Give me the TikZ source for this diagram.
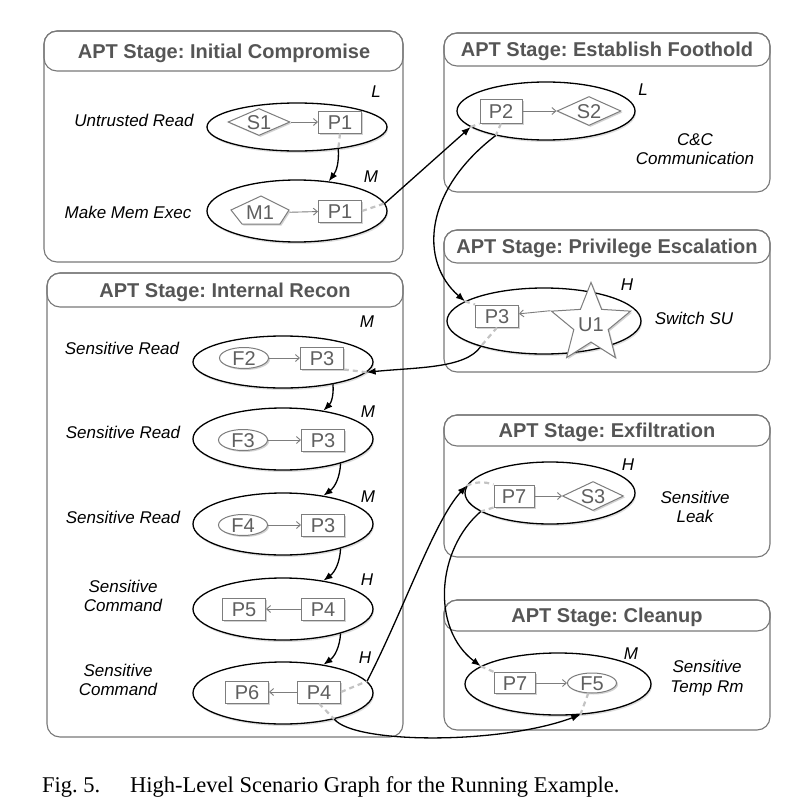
\documentclass[tikz,border=0pt]{standalone}
\usepackage{fontspec}
\setmainfont{Liberation Sans}
\newfontfamily\capfont{Liberation Serif}
\usetikzlibrary{shapes.geometric,shadows,arrows.meta}
\definecolor{panelgray}{RGB}{120,120,120}
\definecolor{titlegray}{RGB}{85,85,85}
\definecolor{boxgray}{RGB}{125,125,125}
\definecolor{boxtext}{RGB}{95,95,95}
\definecolor{dashgray}{RGB}{195,195,195}
\frenchspacing
\tikzset{
 panel/.style={draw=panelgray, line width=1.1pt, rounded corners=13pt},
 ttl/.style={text=titlegray, font=\fontsize{20}{24}\selectfont\bfseries, text height=14.5pt, text depth=0pt, inner sep=0pt},
 lab/.style={font=\fontsize{17}{19.5}\selectfont\itshape, align=center, inner sep=0pt},
 lvl/.style={font=\fontsize{17}{19}\selectfont\itshape, inner sep=0pt},
 bigell/.style={ellipse, draw=black, line width=1.3pt, fill=white, inner sep=0pt, drop shadow={shadow xshift=1pt, shadow yshift=-2pt, opacity=0.25}},
 sm/.style={draw=boxgray, line width=1pt, fill=white, text=boxtext, font=\fontsize{20}{22}\selectfont, inner sep=0pt, text height=14pt, text depth=0pt, drop shadow={shadow xshift=1.5pt, shadow yshift=-1.5pt, opacity=0.35}},
 pbox/.style={sm, rectangle, minimum width=43pt, minimum height=22pt},
 dia/.style={sm, diamond, aspect=2.3, minimum width=62pt, minimum height=27pt},
 fil/.style={sm, ellipse, minimum width=49pt, minimum height=21pt},
 inarr/.style={draw=boxgray, line width=0.9pt, -{Straight Barb[length=4pt,width=7pt]}},
 conn/.style={draw=black, line width=1.3pt, -{Latex[length=9pt,width=7pt]}},
 dsh/.style={draw=dashgray, line width=2.2pt, dash pattern=on 5pt off 4pt},
}
\begin{document}
\begin{tikzpicture}[x=1pt,y=-1pt]
\useasboundingbox (0,0) rectangle (806,808);
% ---------- panels ----------
\draw[panel] (44,31) rectangle (403,262);
\draw[panel] (44,31) rectangle (403,71);
\node[ttl] (t1) at (224,51) {APT Stage: Initial Compromise};
\draw[panel] (444,33) rectangle (770,192);
\draw[panel] (444,33) rectangle (770,66);
\node[ttl] (t2) at (607,49.5) {APT Stage: Establish Foothold};
\draw[panel] (444,230) rectangle (770,372);
\draw[panel] (444,230) rectangle (770,263);
\node[ttl] (t3) at (607,246.5) {APT Stage: Privilege Escalation};
\draw[panel] (47,273) rectangle (403,737);
\draw[panel] (47,273) rectangle (403,307);
\node[ttl] (t4) at (225,290) {APT Stage: Internal Recon};
\draw[panel] (444,415) rectangle (770,557);
\draw[panel] (444,415) rectangle (770,446);
\node[ttl] (t5) at (607,430.5) {APT Stage: Exfiltration};
\draw[panel] (444,600) rectangle (770,730);
\draw[panel] (444,600) rectangle (770,631);
\node[ttl] (t6) at (607,615.5) {APT Stage: Cleanup};
% ---------- big ellipses ----------
\node[bigell, minimum width=180pt, minimum height=48pt] (E1) at (297,127) {};
\node[bigell, minimum width=180pt, minimum height=62pt] (E2) at (297,211) {};
\node[bigell, minimum width=178pt, minimum height=58pt] (E3) at (546,111) {};
\node[bigell, minimum width=194pt, minimum height=66pt] (E4) at (544,321) {};
\node[bigell, minimum width=180pt, minimum height=52pt] (E5) at (283,362) {};
\node[bigell, minimum width=180pt, minimum height=62pt] (E6) at (283,439) {};
\node[bigell, minimum width=180pt, minimum height=62pt] (E7) at (283,524) {};
\node[bigell, minimum width=180pt, minimum height=62pt] (E8) at (283,609) {};
\node[bigell, minimum width=180pt, minimum height=62pt] (E9) at (283,693) {};
\node[bigell, minimum width=170pt, minimum height=62pt] (E10) at (550,493) {};
\node[bigell, minimum width=186pt, minimum height=62pt] (E11) at (558,684) {};
% ---------- inner entities ----------
\node[dia] (S1) at (259,122) {S1};
\node[pbox] (P1a) at (340,122) {P1};
\coordinate (m1c) at (260,211);
\draw[draw=boxgray, line width=1pt, fill=white, drop shadow={shadow xshift=1.5pt, shadow yshift=-1.5pt, opacity=0.35}, shift={(m1c)}]
  (1,-15) -- (29,-1) -- (20,13) -- (-18,13) -- (-29,-1) -- cycle;
\node[minimum width=59pt, minimum height=28pt, inner sep=0pt, text=boxtext, font=\fontsize{20}{22}\selectfont] (M1) at (260,213) {M1};
\node[pbox] (P1b) at (340,211) {P1};
\node[pbox, minimum width=42pt, minimum height=24pt] (P2) at (501,111) {P2};
\node[dia, minimum width=64pt, minimum height=29pt] (S2) at (589,111) {S2};
\node[pbox] (P3b) at (497,316) {P3};
\node[sm, star, star points=5, star point ratio=2.3, minimum size=66pt] (U1) at (591,324) {U1};
\node[fil] (F2) at (244,358) {F2};
\node[pbox] (P3c) at (322,358) {P3};
\node[fil] (F3) at (243,440) {F3};
\node[pbox] (P3d) at (323,440) {P3};
\node[fil] (F4) at (243,525) {F4};
\node[pbox] (P3e) at (323,525) {P3};
\node[pbox] (P5) at (244,609) {P5};
\node[pbox] (P4a) at (323,609) {P4};
\node[pbox] (P6) at (247,692) {P6};
\node[pbox] (P4b) at (319,692) {P4};
\node[pbox, minimum width=40pt] (P7a) at (514,496) {P7};
\node[dia, minimum width=61pt, minimum height=29pt] (S3) at (593,496) {S3};
\node[pbox, minimum width=41pt, minimum height=21pt] (P7b) at (515,683) {P7};
\node[fil, minimum width=49pt, minimum height=20pt] (F5) at (592,683) {F5};
% ---------- inner arrows ----------
\draw[inarr] (S1) -- (P1a);
\draw[inarr] (M1) -- (P1b);
\draw[inarr] (P2) -- (S2);
\draw[inarr] (U1.outer point 2) -- (P3b);
\draw[inarr] (F2) -- (P3c);
\draw[inarr] (F3) -- (P3d);
\draw[inarr] (F4) -- (P3e);
\draw[inarr] (P4a) -- (P5);
\draw[inarr] (P4b) -- (P6);
\draw[inarr] (P7a) -- (S3);
\draw[inarr] (P7b) -- (F5);
% ---------- connectors ----------
\draw[dsh] (P1a.south) -- (E1.-28);
\draw[conn] (E1.-28) to[bend left=20] (E2.43);
\draw[dsh] (P1b.east) -- (E2.5);
\draw[conn] (E2.5) -- (E3.192);
\draw[dsh] (E3.192) -- (P2.south west);
\draw[dsh] (P2.south) -- (E3.206);
\draw[conn] (E3.206) .. controls +(-72,55) and +(-46,-40) .. (E4.166);
\draw[dsh] (E4.166) -- (P3b.north west);
\draw[dsh] (P3b.south) -- (E4.202);
\draw[conn] (E4.202) .. controls +(-15,22) and +(50,-5) .. (E5.-7);
\draw[dsh] (E5.-7) -- (P3c.south east);
\draw[conn] (E5.-24) to[bend left=25] (E6.35);
\draw[conn] (E6.-23) to[bend left=25] (E7.35);
\draw[conn] (E7.-23) to[bend left=25] (E8.35);
\draw[conn] (E8.-23) to[bend left=25] (E9.35);
\draw[dsh] (P4b.east) -- (E9.8);
\draw[conn] (E9.8) .. controls +(37,-72) and +(-32,34) .. (E10.175);
\draw[dsh] (E10.175) to[bend left=20] (P7a.north west);
\draw[dsh] (P7a.south west) -- (E10.195);
\draw[conn] (E10.195) .. controls +(-44,38) and +(-50,-38) .. (E11.167);
\draw[dsh] (E11.167) -- (P7b.north west);
\draw[dsh] (P4b.south) -- (E9.-27);
\draw[conn] (E9.-27) .. controls +(20,25) and +(-80,30) .. (E11.-54);
\draw[dsh] (E11.-54) -- (F5.-110);
% ---------- labels ----------
\node[lab] (l1) at (134,120) {Untrusted Read};
\node[lab] (l2) at (128,212) {Make Mem Exec};
\node[lab] (l3) at (695,149) {C\&C\\Communication};
\node[lab] (l4) at (694,318) {Switch SU};
\node[lab] (l5) at (122,348) {Sensitive Read};
\node[lab] (l6) at (123,432) {Sensitive Read};
\node[lab] (l7) at (123,517) {Sensitive Read};
\node[lab] (l8) at (123,596) {Sensitive\\Command};
\node[lab] (l9) at (118,680) {Sensitive\\Command};
\node[lab] (l10) at (695,507) {Sensitive\\Leak};
\node[lab] (l11) at (707,678) {Sensitive\\Temp Rm};
% ---------- levels ----------
\node[lvl] (v1) at (376,92) {L};
\node[lvl] (v2) at (371,177) {M};
\node[lvl] (v3) at (643,90) {L};
\node[lvl] (v4) at (627,285) {H};
\node[lvl] (v5) at (367,322) {M};
\node[lvl] (v6) at (368,412) {M};
\node[lvl] (v7) at (368,497) {M};
\node[lvl] (v8) at (367,580) {H};
\node[lvl] (v9) at (365,658) {H};
\node[lvl] (v10) at (628,465) {H};
\node[lvl] (v11) at (631,654) {M};
% ---------- caption ----------
\node[anchor=base west, inner sep=0pt, font=\capfont\fontsize{22.5}{26}\selectfont] (cap1) at (42,792) {Fig.~5.};
\node[anchor=base west, inner sep=0pt, font=\capfont\fontsize{22.5}{26}\selectfont] (cap2) at (130,792) {High-Level Scenario Graph for the Running Example.};
\end{tikzpicture}
\end{document}
